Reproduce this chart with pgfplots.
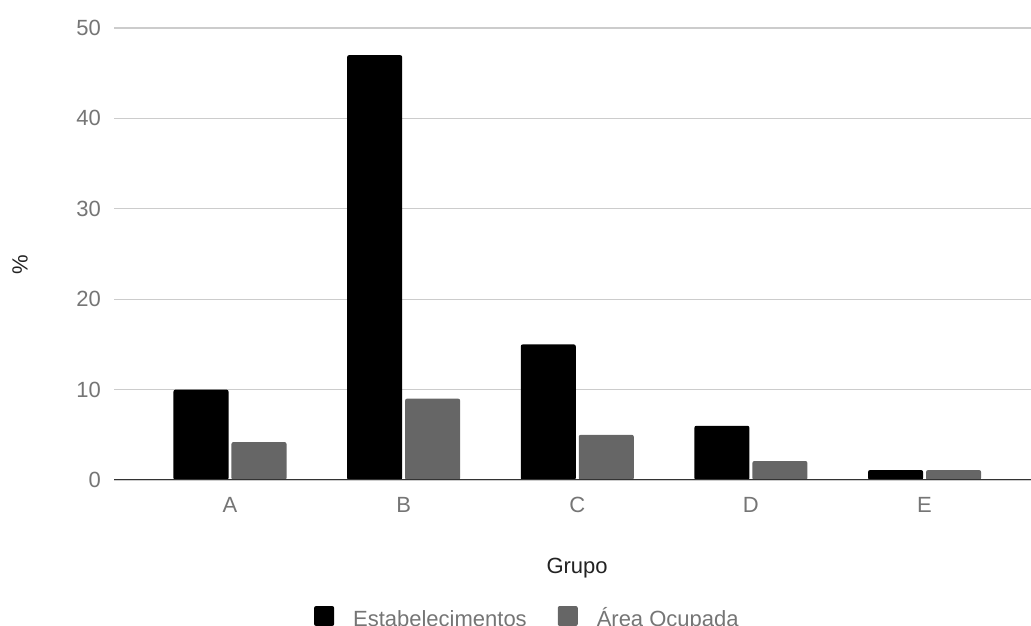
\documentclass[border=0pt]{standalone}
\usepackage{pgfplots}
\pgfplotsset{compat=1.18}
\usepackage{fontspec}
\setmainfont{Liberation Sans}

\definecolor{bargray}{HTML}{666666}
\definecolor{ticktext}{HTML}{757575}
\definecolor{gridgray}{HTML}{CCCCCC}
\definecolor{zeroline}{HTML}{333333}
\definecolor{labeltext}{HTML}{222222}

\newcommand{\chartfont}{\fontsize{22bp}{26bp}\selectfont}
% uniform box for legend texts: 6bp below, 22bp above the baseline
\newcommand{\legstrut}{\rule[-6bp]{0pt}{28bp}}

% square legend swatch; y=0 sits at the middle of the entry text box
\pgfplotsset{
  sqlegend/.style={
    legend image code/.code={
      \fill[##1] (0bp,-9.5bp) rectangle (20bp,10.5bp);
      \path[draw=none,fill=none] (0bp,-9.5bp) rectangle (39bp,10.5bp);
    }
  }
}

\begin{document}
\begin{tikzpicture}
\useasboundingbox (0bp,0bp) rectangle (1031bp,626bp);
\begin{axis}[
  at={(114bp,146bp)}, anchor=south west,
  scale only axis, width=917bp, height=452bp,
  xmin=-0.668, xmax=4.613, ymin=0, ymax=50,
  ytick={0,10,20,30,40,50},
  xtick={0,1,2,3,4}, xticklabels={A,B,C,D,E},
  major tick length=0pt,
  axis line style={draw=none},
  ymajorgrids, grid style={gridgray, line width=1.3bp},
  /pgf/number format/assume math mode=true,
  ticklabel style={font=\chartfont, text=ticktext, inner sep=0pt},
  yticklabel style={anchor=east, xshift=-13bp},
  xticklabel style={anchor=north, yshift=-17bp},
  ylabel={\%},
  ylabel style={at={(axis description cs:0,0.476)}, anchor=center, yshift=94bp,
    font=\chartfont, text=labeltext},
  xlabel={Grupo},
  xlabel style={at={(axis description cs:0.505,0)}, anchor=base, yshift=-93bp,
    font=\chartfont, text=labeltext},
  legend columns=2,
  legend style={at={(axis description cs:0.218,0)}, anchor=west, yshift=-136.5bp,
    draw=none, fill=none, inner sep=0pt,
    font=\chartfont, text=ticktext,
    nodes={inner sep=0pt},
    /tikz/every even column/.append style={column sep=31bp}},
]
\addplot[ybar, sqlegend, fill=black, draw=none, bar width=0.317, bar shift=-0.167,
  rounded corners=2bp]
  coordinates {(0,10) (1,47) (2,15) (3,6) (4,1.1)};
\addlegendentry{\legstrut Estabelecimentos}
\addplot[ybar, sqlegend, fill=bargray, draw=none, bar width=0.317, bar shift=0.167,
  rounded corners=2bp]
  coordinates {(0,4.2) (1,9) (2,5) (3,2.1) (4,1.1)};
\addlegendentry{\legstrut Área Ocupada}
% baseline at zero, drawn over the bar feet
\draw[zeroline, line width=1.6bp] (rel axis cs:0,0) -- (rel axis cs:1,0);
\end{axis}
\end{tikzpicture}
\end{document}
